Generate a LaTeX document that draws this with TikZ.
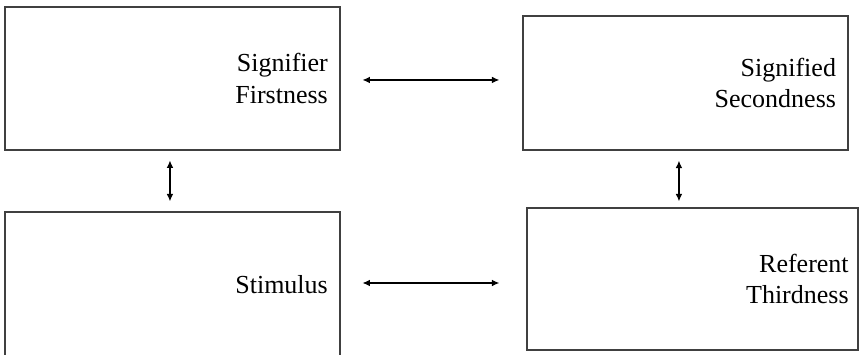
\documentclass[tikz,border=0pt]{standalone}
\usepackage{fontspec}
\setmainfont{Liberation Serif}
\usetikzlibrary{arrows.meta}
\begin{document}
\begin{tikzpicture}[x=0.75pt,y=-0.75pt,
  sign/.style={draw=black!75, line width=1.1pt, rectangle, inner ysep=0pt,
    align=right, font=\fontsize{19.5pt}{23.5pt}\selectfont},
  link/.style={line width=0.8pt, {Latex[length=5.5pt,width=5pt]}-{Latex[length=5.5pt,width=5pt]}}]
\useasboundingbox (0,0) rectangle (861,354);
\node[sign, inner xsep=9pt, text width=233pt, minimum height=107pt] (sgr) at (172.5,78.5) {Signifier\\Firstness};
\node[sign, inner xsep=9pt, text width=225.75pt, minimum height=100.5pt] (sgd) at (685.5,83) {Signified\\Secondness};
\node[sign, inner xsep=9pt, text width=233pt, minimum height=109.5pt] (stm) at (172.5,285) {Stimulus};
\node[sign, inner xsep=7pt, text width=234.25pt, minimum height=106.5pt] (ref) at (692.5,279) {Referent\\Thirdness};
\draw[link, shorten <=16.5pt, shorten >=17.25pt] ([yshift=-1.1pt]sgr.east) -- ([yshift=-1.1pt]sgr.east -| sgd.west);
\draw[link, shorten <=16.5pt, shorten >=20.25pt] ([yshift=1.5pt]stm.east) -- ([yshift=1.5pt]stm.east -| ref.west);
\draw[link, shorten <=7.5pt, shorten >=7.5pt] ([xshift=-1.9pt]sgr.south) -- ([xshift=-1.9pt]sgr.south |- stm.north);
\draw[link, shorten <=7.5pt, shorten >=4.5pt] ([xshift=-4.9pt]sgd.south) -- ([xshift=-4.9pt]sgd.south |- ref.north);
\end{tikzpicture}
\end{document}
